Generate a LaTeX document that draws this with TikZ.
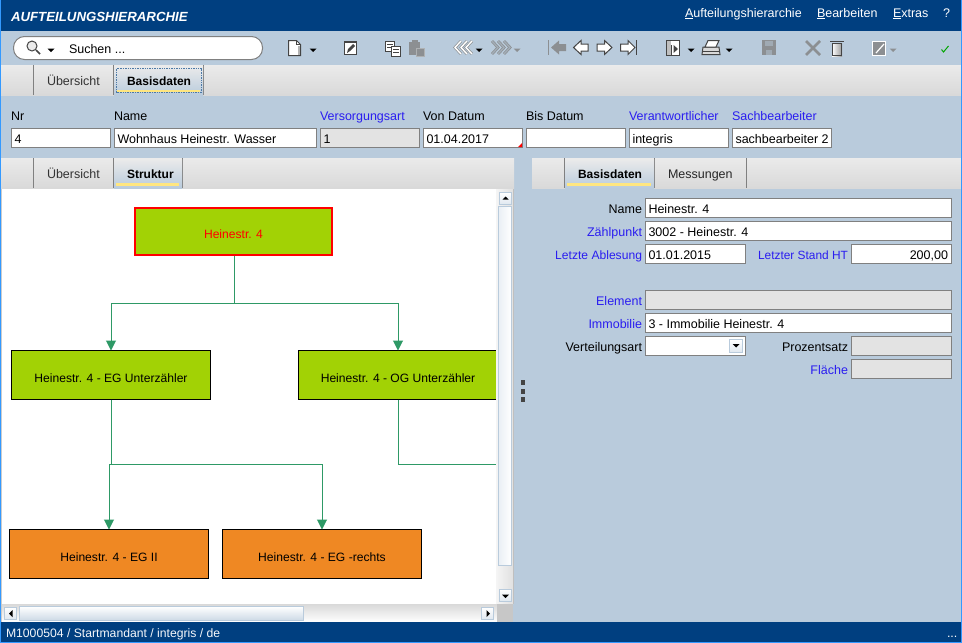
\documentclass[tikz,border=0pt]{standalone}
\usepackage{fontspec}
\setmainfont{Liberation Sans}
\usetikzlibrary{arrows.meta}
\definecolor{navy}{HTML}{003F80}
\definecolor{bgblue}{HTML}{B9CBDC}
\definecolor{edge}{HTML}{808080}
\definecolor{dis}{HTML}{E3E3E3}
\definecolor{lnk}{HTML}{2A1DF0}
\definecolor{grn}{HTML}{A2D205}
\definecolor{org}{HTML}{EF8823}
\definecolor{conn}{HTML}{2E9966}
\definecolor{yel}{HTML}{FFE680}
\definecolor{ic}{HTML}{444444}
\definecolor{icg}{HTML}{8C8F92}
\tikzset{
 txt/.style={inner sep=0pt,outer sep=0pt,font=\fontsize{12.5}{14}\selectfont},
 boldtxt/.style={txt,font=\fontsize{12}{14}\selectfont\bfseries},
 fldbox/.style={draw=edge,line width=1pt,inner sep=0pt,outer sep=0pt,anchor=north west},
 diagbox/.style={draw=black,line width=1pt,inner sep=0pt,outer sep=0pt,anchor=north west,text height=18pt,text depth=4pt,font=\fontsize{12.1}{14}\selectfont},
 wire/.style={draw=conn,line width=1pt},
 arr/.style={wire,-{Triangle[width=10pt,length=10pt]}},
 sbtn/.style={draw=bgblue,line width=1pt,top color=white,bottom color=bgblue!45},
 iconl/.style={draw=ic,line width=1pt,fill=white,line join=miter},
 chevw/.style={draw=icg,line width=.7pt,double=white,double distance=1.4pt,fill=none,line join=miter},
 chevg/.style={draw=icg,line width=.7pt,double=icg!50!bgblue,double distance=1.4pt,fill=none,line join=miter},
}
\newcommand{\fld}[7]{\node[fldbox,fill=#6,minimum width={(#4-#2)*1pt},minimum height={(#5-#3)*1pt}] (#1) at ({#2+.5},{#3+.5}) {};
  \node[txt,anchor=base west] (#1t) at ({#2+3.5},{#3+15}) {#7};}
\newcommand{\lbl}[6]{\node[txt,anchor=#4,text=#5] (#1) at (#2,#3) {#6};}
\newcommand{\drop}[3]{\fill[#3] ({#1-3.5},{#2-1.5}) -- ({#1+3.5},{#2-1.5}) -- (#1,{#2+2}) -- cycle;}
\newcommand{\band}[3]{\shade[top color=white!92!black,bottom color=white!85!black] (#1,#2) rectangle (#3,{#2+30});}
\newcommand{\sep}[2]{\draw[edge,line width=1pt] ({#1+.5},#2) -- ({#1+.5},{#2+30});}
\begin{document}
\begin{tikzpicture}[x=1pt,y=-1pt]
\useasboundingbox (0,0) rectangle (962,643);
\fill[bgblue] (0,0) rectangle (962,643);
% title bar
\fill[navy] (0,0) rectangle (962,31);
\node[txt,anchor=base west,text=white,font=\fontsize{13.25}{14}\selectfont\bfseries\itshape] (title) at (11,21) {AUFTEILUNGSHIERARCHIE};
\lbl{m1}{685}{17}{base west}{white}{\underline{A}ufteilungshierarchie}
\lbl{m2}{817}{17}{base west}{white}{\underline{B}earbeiten}
\lbl{m3}{893}{17}{base west}{white}{\underline{E}xtras}
\lbl{m4}{943}{17}{base west}{white}{?}
% search pill
\draw[edge,line width=1pt,fill=white,rounded corners=11pt] (13.5,36.5) rectangle (262.5,59.5);
\draw[ic,line width=1pt,fill=white!92!black] (32,46) circle (5);
\draw[ic,line width=1.5pt] (36,50) -- (40,54);
\drop{51}{50}{black}
\lbl{suchen}{69}{53}{base west}{black}{Suchen ...}
% toolbar icons
\draw[iconl] (288.5,40.5) -- (296.5,40.5) -- (300.5,44.5) -- (300.5,55.5) -- (288.5,55.5) -- cycle;
\draw[ic] (296.5,40.5) -- (296.5,44.5) -- (300.5,44.5);
\fill[black!30] (298,46) rectangle (300,55);
\drop{313}{50}{black}
\draw[iconl,line width=1.3pt] (344.5,42) rectangle (356.5,54.5);
\fill[ic] (347,53) -- (348,49) -- (353,44) -- (355,46) -- (350,51) -- cycle;
\draw[iconl] (385.5,41.5) rectangle (394.5,51.5);
\draw[ic] (387,44.5) -- (393,44.5) (387,47.5) -- (391,47.5);
\draw[iconl] (391.5,46.5) rectangle (400.5,56.5);
\draw[ic] (393,49.5) -- (399,49.5) (393,52.5) -- (399,52.5);
\fill[icg] (409,42) rectangle (420,55);
\fill[icg] (412,40) rectangle (418,43);
\draw[icg!70!white,fill=icg] (416.5,48.5) rectangle (424.5,56.5);
\draw[chevw] (461,41) -- (455,47.5) -- (461,54) (467,41) -- (461,47.5) -- (467,54);
\draw[chevw] (472,41) -- (466,47.5) -- (472,54);
\drop{479}{50}{black}
\draw[chevg] (492,41) -- (498,47.5) -- (492,54) (498,41) -- (504,47.5) -- (498,54) (504,41) -- (510,47.5) -- (504,54);
\drop{517}{50}{icg}
\draw[icg,line width=1pt] (548.5,40) -- (548.5,55);
\fill[icg] (551,47.5) -- (559,40.5) -- (559,44) -- (566,44) -- (566,51) -- (559,51) -- (559,54.5) -- cycle;
\draw[iconl] (573.5,47.5) -- (581,40.5) -- (581,44) -- (588,44) -- (588,51) -- (581,51) -- (581,54.5) -- cycle;
\draw[iconl] (612,47.5) -- (604.5,40.5) -- (604.5,44) -- (597,44) -- (597,51) -- (604.5,51) -- (604.5,54.5) -- cycle;
\draw[iconl] (635,47.5) -- (628,40.5) -- (628,44) -- (620.5,44) -- (620.5,51) -- (628,51) -- (628,54.5) -- cycle;
\draw[ic,line width=1pt] (636.5,40) -- (636.5,55);
\draw[iconl,line width=1.3pt] (666.5,40.5) rectangle (679.5,55.5);
\fill[black!25] (667,41) rectangle (671,55);
\draw[ic] (671.5,45) -- (671.5,55);
\fill[ic] (673.5,45) -- (678,49) -- (673.5,53) -- cycle;
\drop{691}{50}{black}
\draw[iconl,fill=black!15] (703,47) -- (719,47) -- (720,54.5) -- (702,54.5) -- cycle;
\draw[iconl] (708,40.5) -- (719,40.5) -- (716,47) -- (705,47) -- cycle;
\draw[ic] (703,51) -- (719.5,51);
\drop{729}{50}{black}
\fill[icg] (762,40) rectangle (776,55);
\fill[icg!55!bgblue] (765,41) rectangle (773,46);
\fill[icg!55!bgblue] (766,50) rectangle (772,55);
\draw[icg,line width=2.5pt] (806,41) -- (820,55) (820,41) -- (806,55);
\shade[left color=white,right color=black!40] (832,43) rectangle (842,56);
\draw[ic,line width=1pt] (832.5,43.5) rectangle (841.5,55.5);
\draw[ic,line width=1.5pt] (830,41.5) -- (844,41.5);
\draw[white,fill=icg] (872.5,41.5) rectangle (885.5,55.5);
\draw[white,line width=1.2pt] (876,53) -- (884,44);
\drop{893}{50}{icg}
\draw[green!65!black,line width=1pt] (941.5,49.5) -- (943.5,52) -- (948.5,46);
% main tab band
\band{1}{65}{962}
\sep{33}{65}\sep{113}{65}\sep{203}{65}
\shade[top color=white!92!black,bottom color=bgblue] (114,66) rectangle (203,95);
\draw[navy!70,densely dotted,line width=.7pt] (116.5,68.5) rectangle (201.5,92.5);
\fill[yel] (117,89.5) rectangle (200,92);
\lbl{t1}{47}{85}{base west}{black!80}{Übersicht}
\node[boldtxt,anchor=base west] (t2) at (127,85) {Basisdaten};
% header labels and fields
\lbl{h1}{11}{120}{base west}{black}{Nr}
\lbl{h2}{114}{120}{base west}{black}{Name}
\lbl{h3}{320}{120}{base west}{lnk}{Versorgungsart}
\lbl{h4}{423}{120}{base west}{black}{Von Datum}
\lbl{h5}{526}{120}{base west}{black}{Bis Datum}
\lbl{h6}{629}{120}{base west}{lnk}{Verantwortlicher}
\lbl{h7}{732}{120}{base west}{lnk}{Sachbearbeiter}
\fld{f1}{11}{128}{110}{147}{white}{4}
\fld{f2}{114}{128}{316}{147}{white}{Wohnhaus Heinestr. Wasser}
\fld{f3}{320}{128}{419}{147}{dis}{1}
\fld{f4}{423}{128}{522}{147}{white}{01.04.2017}
\fill[red] (522,143) -- (522,147) -- (518,147) -- cycle;
\fld{f5}{526}{128}{625}{147}{white}{}
\fld{f6}{629}{128}{728}{147}{white}{integris}
\fld{f7}{732}{128}{831}{147}{white}{sachbearbeiter 2}
% left tab band
\band{1}{158}{514}
\sep{33}{158}\sep{113}{158}\sep{182}{158}
\shade[top color=white!92!black,bottom color=bgblue] (114,159) rectangle (182,188);
\fill[yel] (116,183) rectangle (179,186);
\lbl{t3}{47}{178}{base west}{black!80}{Übersicht}
\node[boldtxt,anchor=base west] (t4) at (127,178) {Struktur};
% right tab band
\band{532}{158}{962}
\sep{564}{158}\sep{654}{158}\sep{746}{158}
\shade[top color=white!92!black,bottom color=bgblue] (565,159) rectangle (654,188);
\fill[yel] (567,183) rectangle (651,186);
\node[boldtxt,anchor=base west] (t5) at (578,178) {Basisdaten};
\lbl{t6}{668}{178}{base west}{black!85}{Messungen}
% diagram canvas
\fill[white] (2,189) rectangle (497,604);
\draw[line width=2pt,edge!40] (1,189) -- (1,622);
\node[diagbox,fill=grn,draw=red,line width=2pt,text=red,minimum width=197pt,minimum height=47pt] (root) at (135,208) {Heinestr. 4};
\node[diagbox,fill=grn,minimum width=199pt,minimum height=49pt] (eg) at (11.5,350.5) {Heinestr. 4 - EG Unterzähler};
\node[diagbox,fill=grn,minimum width=199pt,minimum height=49pt] (og) at (298.5,350.5) {Heinestr. 4 - OG Unterzähler};
\node[diagbox,fill=org,minimum width=199pt,minimum height=49pt] (eg2) at (9.5,529.5) {Heinestr. 4 - EG II};
\node[diagbox,fill=org,minimum width=199pt,minimum height=49pt] (egr) at (222.5,529.5) {Heinestr. 4 - EG -rechts};
\coordinate (r1) at (234.5,303.5);
\coordinate (e1) at (111,464.5);
\coordinate (ogend) at (496,464.5);
\draw[wire] ([xshift=1pt,yshift=-1pt]root.south) -- (r1);
\draw[arr] (r1) -| (eg.north);
\draw[arr] (r1) -| (og.north);
\draw[wire] (eg.south) -- (e1);
\draw[arr] (e1) -| (eg2.north);
\draw[arr] (e1) -| (egr.north);
\draw[wire] (og.south) |- (ogend);
% vertical scrollbar
\shade[left color=white!96!black,right color=white!88!black] (496,189) rectangle (513,604);
\draw[sbtn] (499.5,192.5) rectangle (511.5,204.5);
\fill[black] (502.5,199.5) -- (508.5,199.5) -- (505.5,196.5) -- cycle;
\shade[left color=bgblue!30,right color=white,draw=bgblue] (498.5,206.5) rectangle (511.5,565.5);
\draw[sbtn] (499.5,589.5) rectangle (511.5,601.5);
\drop{505.5}{596}{black}
% horizontal scrollbar
\shade[top color=white!85!black,bottom color=white] (2,604) rectangle (497,622);
\fill[white!78!black] (497,604) rectangle (513,622);
\draw[sbtn] (4.5,607.5) rectangle (16.5,619.5);
\fill[black] (9,613.5) -- (12.5,610) -- (12.5,617) -- cycle;
\shade[top color=white,bottom color=bgblue!70,draw=bgblue] (19.5,606.5) rectangle (303.5,620);
\draw[sbtn] (481.5,607.5) rectangle (493.5,619.5);
\fill[black] (490,613.5) -- (486.5,610) -- (486.5,617) -- cycle;
\draw[white!75!black,line width=1pt] (513.5,189) -- (513.5,604);
% splitter
\foreach \yy in {380,389,397} {\fill[ic] (520.5,\yy) rectangle (525,\yy+4.5);}
% right panel
\fld{p1}{645}{198}{951}{217}{white}{Heinestr. 4}
\fld{p2}{645}{221}{951}{240}{white}{3002 - Heinestr. 4}
\fld{p3}{645}{244}{745}{263}{white}{01.01.2015}
\fld{p4}{851}{244}{951}{263}{white}{}
\node[txt,anchor=base east] (p4t) at (948,259) {200,00};
\fld{p5}{645}{290}{951}{309}{dis}{}
\fld{p6}{645}{313}{951}{332}{white}{3 - Immobilie Heinestr. 4}
\fld{p7}{645}{336}{745}{355}{white}{}
\draw[sbtn] (729.5,339.5) rectangle (742.5,352.5);
\drop{736}{345.5}{black}
\fld{p8}{851}{336}{951}{355}{dis}{}
\fld{p9}{851}{359}{951}{378}{dis}{}
\lbl{l1}{642}{213}{base east}{black}{Name}
\lbl{l2}{642}{236}{base east}{lnk}{Zählpunkt}
\node[txt,anchor=base east,text=lnk,font=\fontsize{12.1}{14}\selectfont] (l3) at (642,259) {Letzte Ablesung};
\node[txt,anchor=base east,text=lnk,font=\fontsize{11.9}{14}\selectfont] (l4) at (848,259) {Letzter Stand HT};
\lbl{l5}{642}{305}{base east}{lnk}{Element}
\lbl{l6}{642}{328}{base east}{lnk}{Immobilie}
\lbl{l7}{642}{351}{base east}{black}{Verteilungsart}
\lbl{l8}{848}{351}{base east}{black}{Prozentsatz}
\lbl{l9}{848}{374}{base east}{lnk}{Fläche}
% status bar
\fill[navy] (0,622) rectangle (962,643);
\node[txt,anchor=base west,text=white!85!bgblue,font=\fontsize{12.2}{14}\selectfont] (st) at (6,637) {M1000504 / Startmandant / integris / de};
\lbl{dots}{947}{637}{base west}{white}{...}
% window border
\draw[blue!50!cyan!80!white,line width=1pt] (.5,0) -- (.5,643) (0,642.5) -- (962,642.5) (961.5,0) -- (961.5,643);
\end{tikzpicture}
\end{document}
